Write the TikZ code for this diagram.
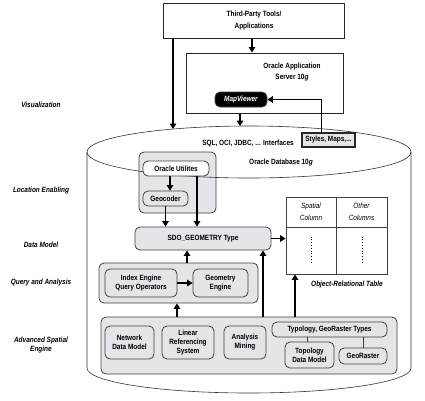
\documentclass[tikz,border=0pt]{standalone}
\usepackage{fontspec}
\setmainfont{Liberation Sans}[FakeStretch=0.85]
\usetikzlibrary{arrows.meta}
\definecolor{boxgray}{RGB}{228,229,233}
\begin{document}
\begin{tikzpicture}[x=1pt, y=-1pt,
  font=\fontsize{7.6}{9}\selectfont\bfseries,
  box/.style={draw=black!75, line width=0.8pt, rounded corners=5pt, fill=boxgray, align=center, inner sep=0pt},
  plain/.style={draw=black!85, line width=1pt, align=center, inner sep=0pt},
  lab/.style={font=\fontsize{7.6}{9.5}\selectfont\bfseries\itshape, align=center},
  arr/.style={-{Triangle[width=6.5pt,length=5.5pt]}, line width=1.3pt}]
\useasboundingbox (0,0) rectangle (425,400);
\node[plain, minimum width=181, minimum height=35, font=\fontsize{7.6}{12}\selectfont\bfseries] (Tools) at (254,21) {Third-Party Tools/\\Applications};
\node[plain, minimum width=157, minimum height=60] (AppServer) at (264.5,83) {};
\node[align=center, font=\fontsize{7.6}{11}\selectfont\bfseries] (AppLabel) at (292,72) {Oracle Application\\Server 10\textit{g}};
\node[box, fill=black, text=white, font=\fontsize{7.6}{9}\selectfont\bfseries\itshape, minimum width=52, minimum height=15] (MapViewer) at (241,99.5) {MapViewer};
\draw[black!80, line width=0.6pt] (87,152) -- (87,368) arc[start angle=180, end angle=0, x radius=162, y radius=25] -- (411,152);
\node[box, minimum width=77, minimum height=61] (LocGroup) at (177.5,182.5) {};
\draw[black!80, line width=0.6pt] (249,152) ellipse[x radius=162, y radius=26];
\node (Interfaces) at (248,143) {SQL, OCI, JDBC, ... Interfaces};
\node[plain, fill=boxgray, line width=1.2pt, minimum width=53, minimum height=14] (Styles) at (328.5,140) {Styles, Maps,...};
\node (DbLabel) at (281,163) {Oracle Database 10\textit{g}};
\node[box, fill=white, minimum width=66, minimum height=15] (Utilities) at (176,168.5) {Oracle Utilites};
\node[box, minimum width=45, minimum height=15] (Geocoder) at (165.5,198.5) {Geocoder};
\node[box, minimum width=136, minimum height=23] (Sdo) at (203,238.5) {SDO\_GEOMETRY Type};
\node[plain, draw=black!75, line width=0.8pt, minimum width=101, minimum height=77] (Table) at (336.5,235.5) {};
\draw[black!75, line width=0.8pt] (Table.north) -- (Table.south);
\draw[black!75, line width=0.8pt] ([yshift=-31pt]Table.north west) -- ([yshift=-31pt]Table.north east);
\draw[dotted, line width=0.8pt] ([xshift=-25.5pt, yshift=-40pt]Table.north) -- ([xshift=-25.5pt, yshift=12pt]Table.south);
\draw[dotted, line width=0.8pt] ([xshift=25.5pt, yshift=-40pt]Table.north) -- ([xshift=25.5pt, yshift=12pt]Table.south);
\node[font=\fontsize{7.6}{12}\selectfont\itshape, align=center] (SpatialCol) at (311,212) {Spatial\\Column};
\node[font=\fontsize{7.6}{12}\selectfont\itshape, align=center] (OtherCol) at (361.5,212) {Other\\Columns};
\node[lab] (TableLabel) at (347,285) {Object-Relational Table};
\node[box, minimum width=159, minimum height=40] (Query) at (178.5,283) {};
\node[box, minimum width=72, minimum height=28] (Index) at (141,283) {Index Engine\\Query Operators};
\node[box, minimum width=55, minimum height=28] (GeomEngine) at (220.5,283) {Geometry\\Engine};
\node[box, minimum width=296, minimum height=57] (Engine) at (249,345.5) {};
\node[box, minimum width=49, minimum height=33] (Network) at (129.5,342.5) {Network\\Data Model};
\node[box, minimum width=52, minimum height=33] (Lrs) at (188,342.5) {Linear\\Referencing\\System};
\node[box, minimum width=42, minimum height=33] (Mining) at (245,342.5) {Analysis\\Mining};
\node[box, minimum width=115, minimum height=15] (Types) at (329.5,329.5) {Typology, GeoRaster Types};
\node[box, minimum width=49, minimum height=26] (Topology) at (309.5,355) {Topology\\Data Model};
\node[box, minimum width=48, minimum height=16] (GeoRaster) at (363,356) {GeoRaster};
\node[lab] (Visual) at (41,105) {Visualization};
\node[lab] (LocEnab) at (41,191) {Location Enabling};
\node[lab] (DataModel) at (41,245) {Data Model};
\node[lab] (QueryLab) at (41,283) {Query and Analysis};
\node[lab] (AdvLab) at (41,345) {Advanced Spatial\\Engine};
\coordinate (DbTopA) at (173,129);
\coordinate (DbTopB) at (240,126);
\draw[arr] ([xshift=-2pt]Tools.south) -- ([xshift=-2pt]Tools.south |- AppServer.north);
\draw[arr] (Tools.south -| DbTopA) -- (DbTopA);
\draw[arr] (AppServer.south -| DbTopB) -- (DbTopB);
\draw[arr] ([xshift=-7pt]Styles.north) |- (MapViewer.east);
\draw[arr] ([xshift=4.5pt]Geocoder.north |- Utilities.south) -- ([xshift=4.5pt]Geocoder.north);
\draw[arr] (Geocoder.south) -- (Geocoder.south |- Sdo.north);
\draw[arr] ([xshift=21pt]Utilities.south) -- ([xshift=21pt]Utilities.south |- Sdo.north);
\draw[arr] (Sdo.east) -- (Sdo.east -| Table.west);
\draw[arr] (Index) -- (GeomEngine);
\draw[arr] ([xshift=8.5pt]Query.north) -- ([xshift=8.5pt]Query.north |- Sdo.south);
\draw[arr] ([xshift=-72pt]Engine.north) -- ([xshift=-72pt]Engine.north |- Query.south);
\draw[arr] ([xshift=14pt]Engine.north) -- ([xshift=14pt]Engine.north |- Sdo.south);
\draw[arr] ([xshift=46pt]Engine.north) -- ([xshift=46pt]Engine.north |- Table.south);
\draw[black!75, line width=0.8pt] ([xshift=-2.5pt]Topology.north |- Types.south) -- ([xshift=-2.5pt]Topology.north);
\draw[black!75, line width=0.8pt] (GeoRaster.north |- Types.south) -- (GeoRaster.north);
\end{tikzpicture}
\end{document}
